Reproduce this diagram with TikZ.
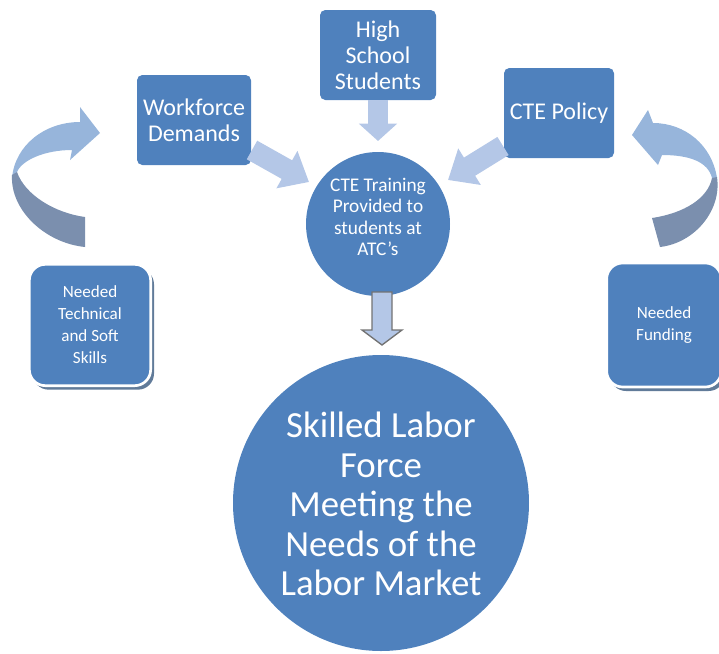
\documentclass[tikz,border=0pt]{standalone}
\usepackage{fontspec}
\setmainfont{Carlito}
\usetikzlibrary{arrows.meta,shadows}
\definecolor{boxblue}{HTML}{4F81BD}
\definecolor{arrlight}{HTML}{B4C7E7}
\definecolor{curvelight}{HTML}{97B5DB}
\definecolor{curvedark}{HTML}{7B8FAE}
\definecolor{shadowblue}{HTML}{3A5A80}
\begin{document}
\begin{tikzpicture}[x=0.75pt,y=-0.75pt,
  topbox/.style={fill=boxblue, rounded corners=4pt, text=white, align=center,
    font=\fontsize{18}{19.5}\selectfont, inner sep=0pt},
  needbox/.style={fill=boxblue, draw=white, line width=2pt, rounded corners=12pt,
    text=white, align=center, font=\fontsize{12.8}{16.5}\selectfont, inner sep=0pt,
    drop shadow={shadow xshift=2.5pt, shadow yshift=-3pt, fill=shadowblue, opacity=0.8}},
  bluecircle/.style={circle, fill=boxblue, inner sep=0pt},
  blockarrow/.style={draw=arrlight, line width=16pt,
    -{Triangle[length=19pt, width=31pt]}},
  circtext/.style={text=white, align=center},
]
\useasboundingbox (0,0) rectangle (719,654);

% top boxes
\node[topbox, minimum width=87pt, minimum height=67.5pt] (hs) at (378,55) {High\\School\\Students};
\node[topbox, minimum width=85.5pt, minimum height=67.5pt] (wd) at (194,120) {Workforce\\Demands};
\node[topbox, minimum width=82.5pt, minimum height=67.5pt] (pol) at (559,113) {CTE Policy};

% needed boxes
\node[needbox, minimum width=91pt, minimum height=91pt] (tech) at (90,325) {Needed\\Technical\\and Soft\\Skills};
\node[needbox, minimum width=86pt, minimum height=93pt] (fund) at (664,325) {Needed\\Funding};

% circles
\node[bluecircle, minimum size=108pt] (cte) at (378,224) {};
\node[circtext, font=\fontsize{14.5}{16.2}\selectfont] (ctetext) at (378,217) {CTE Training\\Provided to\\students at\\ATC\char"0027 s};
\node[bluecircle, minimum size=222pt] (skill) at (381,503) {};
\node[circtext, font=\fontsize{27.6}{29.6}\selectfont] (skilltext) at (381,504) {Skilled Labor\\Force\\Meeting the\\Needs of the\\Labor Market};

% block arrows into CTE circle
\coordinate (wdA) at (252,150);
\coordinate (wdB) at (309,182);
\coordinate (hsA) at (378,100);
\coordinate (hsB) at (378,141);
\coordinate (polA) at (503,146);
\coordinate (polB) at (448,180);
\draw[blockarrow] (wdA) -- (wdB);
\draw[blockarrow, line width=15.5pt, -{Triangle[length=13pt, width=28pt]}] (hsA) -- (hsB);
\draw[blockarrow] (polA) -- (polB);

% outlined down arrow
\draw[fill=arrlight, draw=gray!90!black, line width=1pt, line join=miter]
  (372,292) -- (392,292) -- (392,330) -- (402,330) -- (382,345) -- (362,330) -- (372,330) -- cycle;

% left curved arrow
\fill[curvelight] (12,178) .. controls (15,145) and (45,122) .. (80,122) -- (80,107) -- (100,133)
  -- (70,160) -- (72,150) .. controls (45,150) and (22,160) .. (17,172) -- cycle;
\fill[curvedark] (12,175) .. controls (10,210) and (45,243) .. (85,247) -- (85,217)
  .. controls (55,213) and (25,195) .. (17,172) -- cycle;

% right curved arrow
\fill[curvelight] (717,178) .. controls (712,145) and (685,123) .. (653,123) -- (648,110) -- (632,135)
  -- (658,165) -- (662,155) .. controls (690,155) and (708,162) .. (712,178) -- cycle;
\fill[curvedark] (717,177) .. controls (722,210) and (695,243) .. (660,247) -- (652,218)
  .. controls (685,213) and (708,198) .. (712,178) -- cycle;
\end{tikzpicture}
\end{document}
